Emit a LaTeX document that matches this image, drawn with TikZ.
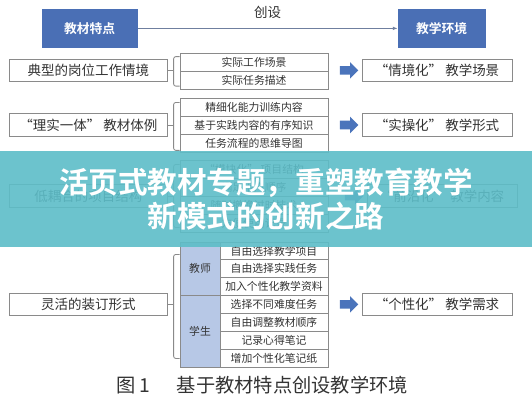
\documentclass[tikz,border=0pt]{standalone}
\usepackage{fontspec}
\setmainfont{Noto Sans CJK SC}[BoldFont={* Bold}]
\usetikzlibrary{arrows.meta,calc,positioning,shapes.arrows}
\definecolor{FigBlue}{HTML}{4A6FB5}
\definecolor{FigArrow}{HTML}{4B74BB}
\definecolor{FigRole}{HTML}{B7C8E6}
\definecolor{FigEdge}{HTML}{8A8A8A}
\definecolor{FigInk}{HTML}{333333}
\definecolor{FigTeal}{HTML}{5DBDC8}
\definecolor{FigLine}{HTML}{6F7F9F}
\newcommand{\EnvHead}{\fontsize{9.1}{10}\selectfont\bfseries}
\newcommand{\EnvText}{\fontsize{9.6}{10.5}\selectfont}
\newcommand{\EnvCell}{\fontsize{7.7}{8.4}\selectfont}
\newcommand{\EnvBanner}{\fontsize{21}{24.5}\selectfont\bfseries}
\newcommand{\EnvCaption}{\fontsize{13.7}{15}\selectfont}
\tikzset{
  envbase/.style={
    draw=FigEdge,
    fill=white,
    line width=0.5pt,
    align=center,
    inner sep=1pt,
    text=FigInk
  },
  headbox/.style={envbase, draw=FigBlue, fill=FigBlue, text=white, minimum height=0.93cm, font=\EnvHead},
  sidebox/.style={envbase, minimum width=3.93cm, minimum height=0.56cm, font=\EnvText},
  goalbox/.style={envbase, minimum width=3.75cm, minimum height=0.56cm, font=\EnvText},
  cellbox/.style={envbase, minimum width=3.7cm, minimum height=0.45cm, font=\EnvCell},
  subcell/.style={envbase, minimum width=2.7cm, minimum height=0.446cm, font=\EnvCell},
  rolebox/.style={envbase, fill=FigRole, minimum width=1.0cm, font=\EnvCell},
  pusharrow/.style={
    single arrow,
    fill=FigArrow,
    draw=none,
    inner sep=0.1cm,
    minimum height=0.46cm,
    single arrow head extend=0.1cm,
    single arrow tip angle=90
  },
  bracketline/.style={
    draw=FigEdge,
    line width=0.6pt,
    rounded corners=1.5pt
  },
  mainarrow/.style={
    -{Latex[length=1.2mm,width=0.9mm]},
    draw=FigLine,
    line width=0.6pt
  },
  arrowlabel/.style={
    text=FigInk,
    font=\EnvText
  },
  bannerbox/.style={
    fill=FigTeal,
    fill opacity=0.9,
    text opacity=1,
    text=white,
    minimum width=13.3cm,
    minimum height=2.4cm,
    align=center,
    font=\EnvBanner
  }
}

\begin{document}
\begin{tikzpicture}[x=1cm,y=1cm]
\path[use as bounding box, fill=white] (0,0) rectangle (13.3,10);

% header
\node[headbox, minimum width=2.38cm] (feature) at (2.24,9.29) {教材特点};
\node[headbox, minimum width=2.18cm] (env) at (11.04,9.29) {教学环境};
\draw[mainarrow] (feature.east) -- node[arrowlabel, above=3pt] {创设} (env.west);

% row 1
\node[sidebox] (typical) at (2.21,8.24) {典型的岗位工作情境};
\node[cellbox] (scene1) at (6.35,8.45) {实际工作场景};
\node[cellbox] (scene2) at (6.35,8.00) {实际任务描述};
\node[pusharrow] (push1) at (8.675,8.24) {};
\node[goalbox] (situate) at (10.925,8.24) {“情境化” 教学场景};
\draw[bracketline] (typical.east) -- ++(0.175,0);
\draw[bracketline] ([yshift=-0.1cm]scene1.north west) -- ++(-0.15,0) -- ([xshift=-0.15cm,yshift=0.08cm]scene2.south west) -- ([yshift=0.08cm]scene2.south west);

% row 2
\node[sidebox] (unity) at (2.21,6.875) {“理实一体” 教材体例};
\node[cellbox] (drill1) at (6.35,7.325) {精细化能力训练内容};
\node[cellbox] (drill2) at (6.35,6.875) {基于实践内容的有序知识};
\node[cellbox] (drill3) at (6.35,6.425) {任务流程的思维导图};
\node[pusharrow] (push2) at (8.675,6.875) {};
\node[goalbox] (practice) at (10.925,6.875) {“实操化” 教学形式};
\draw[bracketline] (unity.east) -- ++(0.175,0);
\draw[bracketline] ([yshift=-0.12cm]drill1.north west) -- ++(-0.15,0) -- ([xshift=-0.15cm,yshift=0.05cm]drill3.south west) -- ([yshift=0.05cm]drill3.south west);

% row 3
\node[sidebox] (loose) at (2.21,5.10) {低耦合的项目结构};
\node[cellbox] (module1) at (6.35,5.775) {“模块化” 项目结构};
\node[cellbox] (module2) at (6.35,5.325) {满足用户顺序};
\node[cellbox] (module3) at (6.35,4.875) {随时撤换过时技术};
\node[cellbox] (module4) at (6.35,4.425) {方便使用记录};
\node[pusharrow] (push3) at (8.80,5.10) {};
\node[goalbox] (frontier) at (11.05,5.10) {“前沿化” 教学内容};
\draw[bracketline] (loose.east) -- ++(0.175,0);
\draw[bracketline] ([yshift=-0.12cm]module1.north west) -- ++(-0.15,0) -- ([xshift=-0.15cm,yshift=0.12cm]module4.south west) -- ([yshift=0.12cm]module4.south west);

% row 4
\node[sidebox] (binding) at (2.21,2.39) {灵活的装订形式};
\node[rolebox, minimum height=1.338cm] (teacher) at (5.00,3.281) {教师};
\node[rolebox, minimum height=1.784cm] (student) at (5.00,1.72) {学生};
\node[subcell] (pick1) at (6.85,3.727) {自由选择教学项目};
\node[subcell] (pick2) at (6.85,3.281) {自由选择实践任务};
\node[subcell] (pick3) at (6.85,2.835) {加入个性化教学资料};
\node[subcell] (pick4) at (6.85,2.389) {选择不同难度任务};
\node[subcell] (pick5) at (6.85,1.943) {自由调整教材顺序};
\node[subcell] (pick6) at (6.85,1.497) {记录心得笔记};
\node[subcell] (pick7) at (6.85,1.051) {增加个性化笔记纸};
\node[pusharrow] (push4) at (8.675,2.39) {};
\node[goalbox] (personal) at (10.925,2.39) {“个性化” 教学需求};
\draw[bracketline] (binding.east) -- ++(0.175,0);
\draw[bracketline] ([yshift=-0.32cm]teacher.north west) -- ++(-0.15,0) -- ([xshift=-0.15cm,yshift=0.22cm]student.south west) -- ([yshift=0.22cm]student.south west);

% banner and caption
\node[bannerbox] (banner) at (6.65,5.025) {活页式教材专题，重塑教育教学\\新模式的创新之路};
\node[font=\EnvCaption, text=FigInk] (caption) at (6.56,0.375) {图\,1\hspace{1.4em}基于教材特点创设教学环境};

\end{tikzpicture}
\end{document}
